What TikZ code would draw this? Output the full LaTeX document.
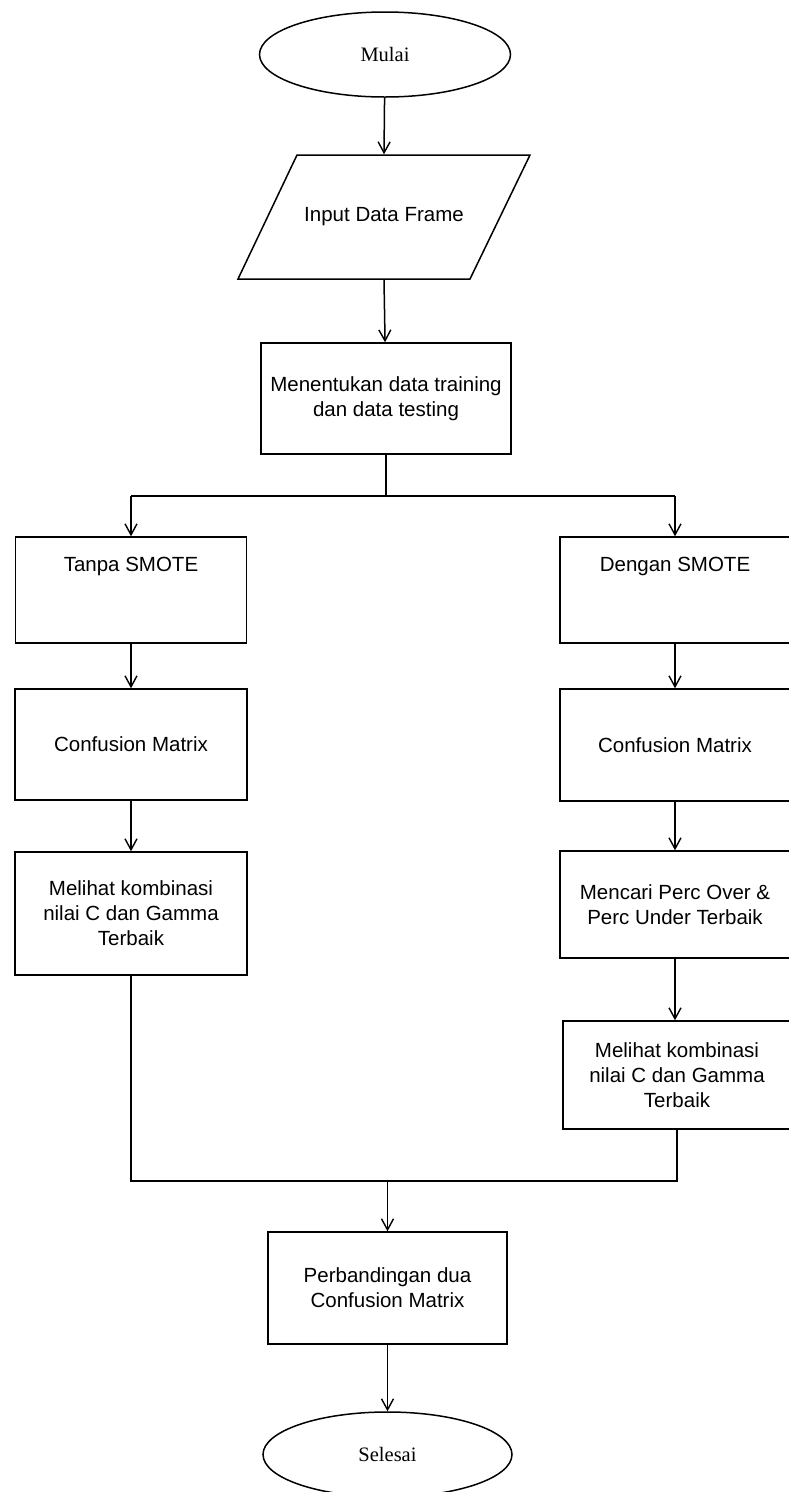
\documentclass[tikz,border=0pt]{standalone}
\usepackage{fontspec}
\setmainfont{Liberation Sans}
\newfontfamily\serifface{Liberation Serif}
\usetikzlibrary{shapes.geometric,arrows.meta}
\tikzset{
  base/.style={line width=1.5pt, inner sep=0pt, font=\fontsize{20.5}{25}\selectfont, align=center},
  procbox/.style={base, draw, rectangle},
  termnode/.style={base, draw, ellipse, font=\serifface\fontsize{20.5}{25}\selectfont},
  flow/.style={line width=1.5pt, -{Straight Barb[length=11pt,width=12pt,line width=1.4pt]}},
  plain/.style={line width=1.5pt}
}
\begin{document}
\begin{tikzpicture}[x=1pt,y=-1pt]
\useasboundingbox (0,0) rectangle (789,1492);
% start
\node[termnode, minimum width=251pt, minimum height=85pt] (mulai) at (385,54.5) {Mulai};
% input parallelogram
\draw[plain] (297,155) -- (530,155) -- (470,279) -- (238,279) -- cycle;
\node[base, minimum width=233pt, minimum height=124pt] (inp) at (384,217) {Input Data Frame};
% split box
\node[procbox, minimum width=250pt, minimum height=111pt] (tentu) at (386,398.5) {Menentukan data training\\dan data testing};
% left branch
\node[procbox, minimum width=231pt, minimum height=106pt,
  label={[base, name=tanpaT, anchor=center, yshift=-30pt]north:Tanpa SMOTE}] (tanpa) at (131,590) {};
\node[procbox, minimum width=232pt, minimum height=111pt] (cmL) at (131,744.5) {Confusion Matrix};
\node[procbox, minimum width=232pt, minimum height=123pt] (lihatL) at (131,913.5) {Melihat kombinasi\\nilai C dan Gamma\\Terbaik};
% right branch
\node[procbox, minimum width=230pt, minimum height=106pt,
  label={[base, name=denganT, anchor=center, yshift=-30pt]north:Dengan SMOTE}] (dengan) at (675,590) {};
\node[procbox, minimum width=230pt, minimum height=112pt] (cmR) at (675,745) {Confusion Matrix};
\node[procbox, minimum width=230pt, minimum height=107pt] (cari) at (675,904.5) {Mencari Perc Over \&\\Perc Under Terbaik};
\node[procbox, minimum width=228pt, minimum height=108pt] (lihatR) at (677,1075) {Melihat kombinasi\\nilai C dan Gamma\\Terbaik};
% merge
\node[procbox, minimum width=239pt, minimum height=112pt] (banding) at (387.5,1288) {Perbandingan dua\\Confusion Matrix};
\node[termnode, minimum width=249pt, minimum height=85pt] (selesai) at (387.5,1454.5) {Selesai};
% junction coordinates
\coordinate (splitC) at (386,496);
\coordinate (splitL) at (131,496);
\coordinate (splitR) at (675,496);
\coordinate (mergeL) at (131,1181);
\coordinate (mergeR) at (677,1181);
\coordinate (mergeC) at (387.5,1181);
% connectors
\draw[flow] (mulai) -- (inp.north);
\draw[flow] (inp.south) -- (tentu);
\draw[plain] (tentu.south) -- (splitC);
\draw[plain] (splitL) -- (splitR);
\draw[flow] (splitL) -- (tanpa.north);
\draw[flow] (splitR) -- (dengan.north);
\draw[flow] (tanpa) -- (cmL);
\draw[flow] (cmL) -- (lihatL);
\draw[flow] (dengan) -- (cmR);
\draw[flow] (cmR) -- (cari);
\draw[flow] (cari.south) -- (cari.south |- lihatR.north);
\draw[plain] (lihatL.south) -- (mergeL) -- (mergeR) -- (lihatR.south);
\draw[flow] (mergeC) -- (banding.north);
\draw[flow] (banding) -- (selesai);
\end{tikzpicture}
\end{document}
